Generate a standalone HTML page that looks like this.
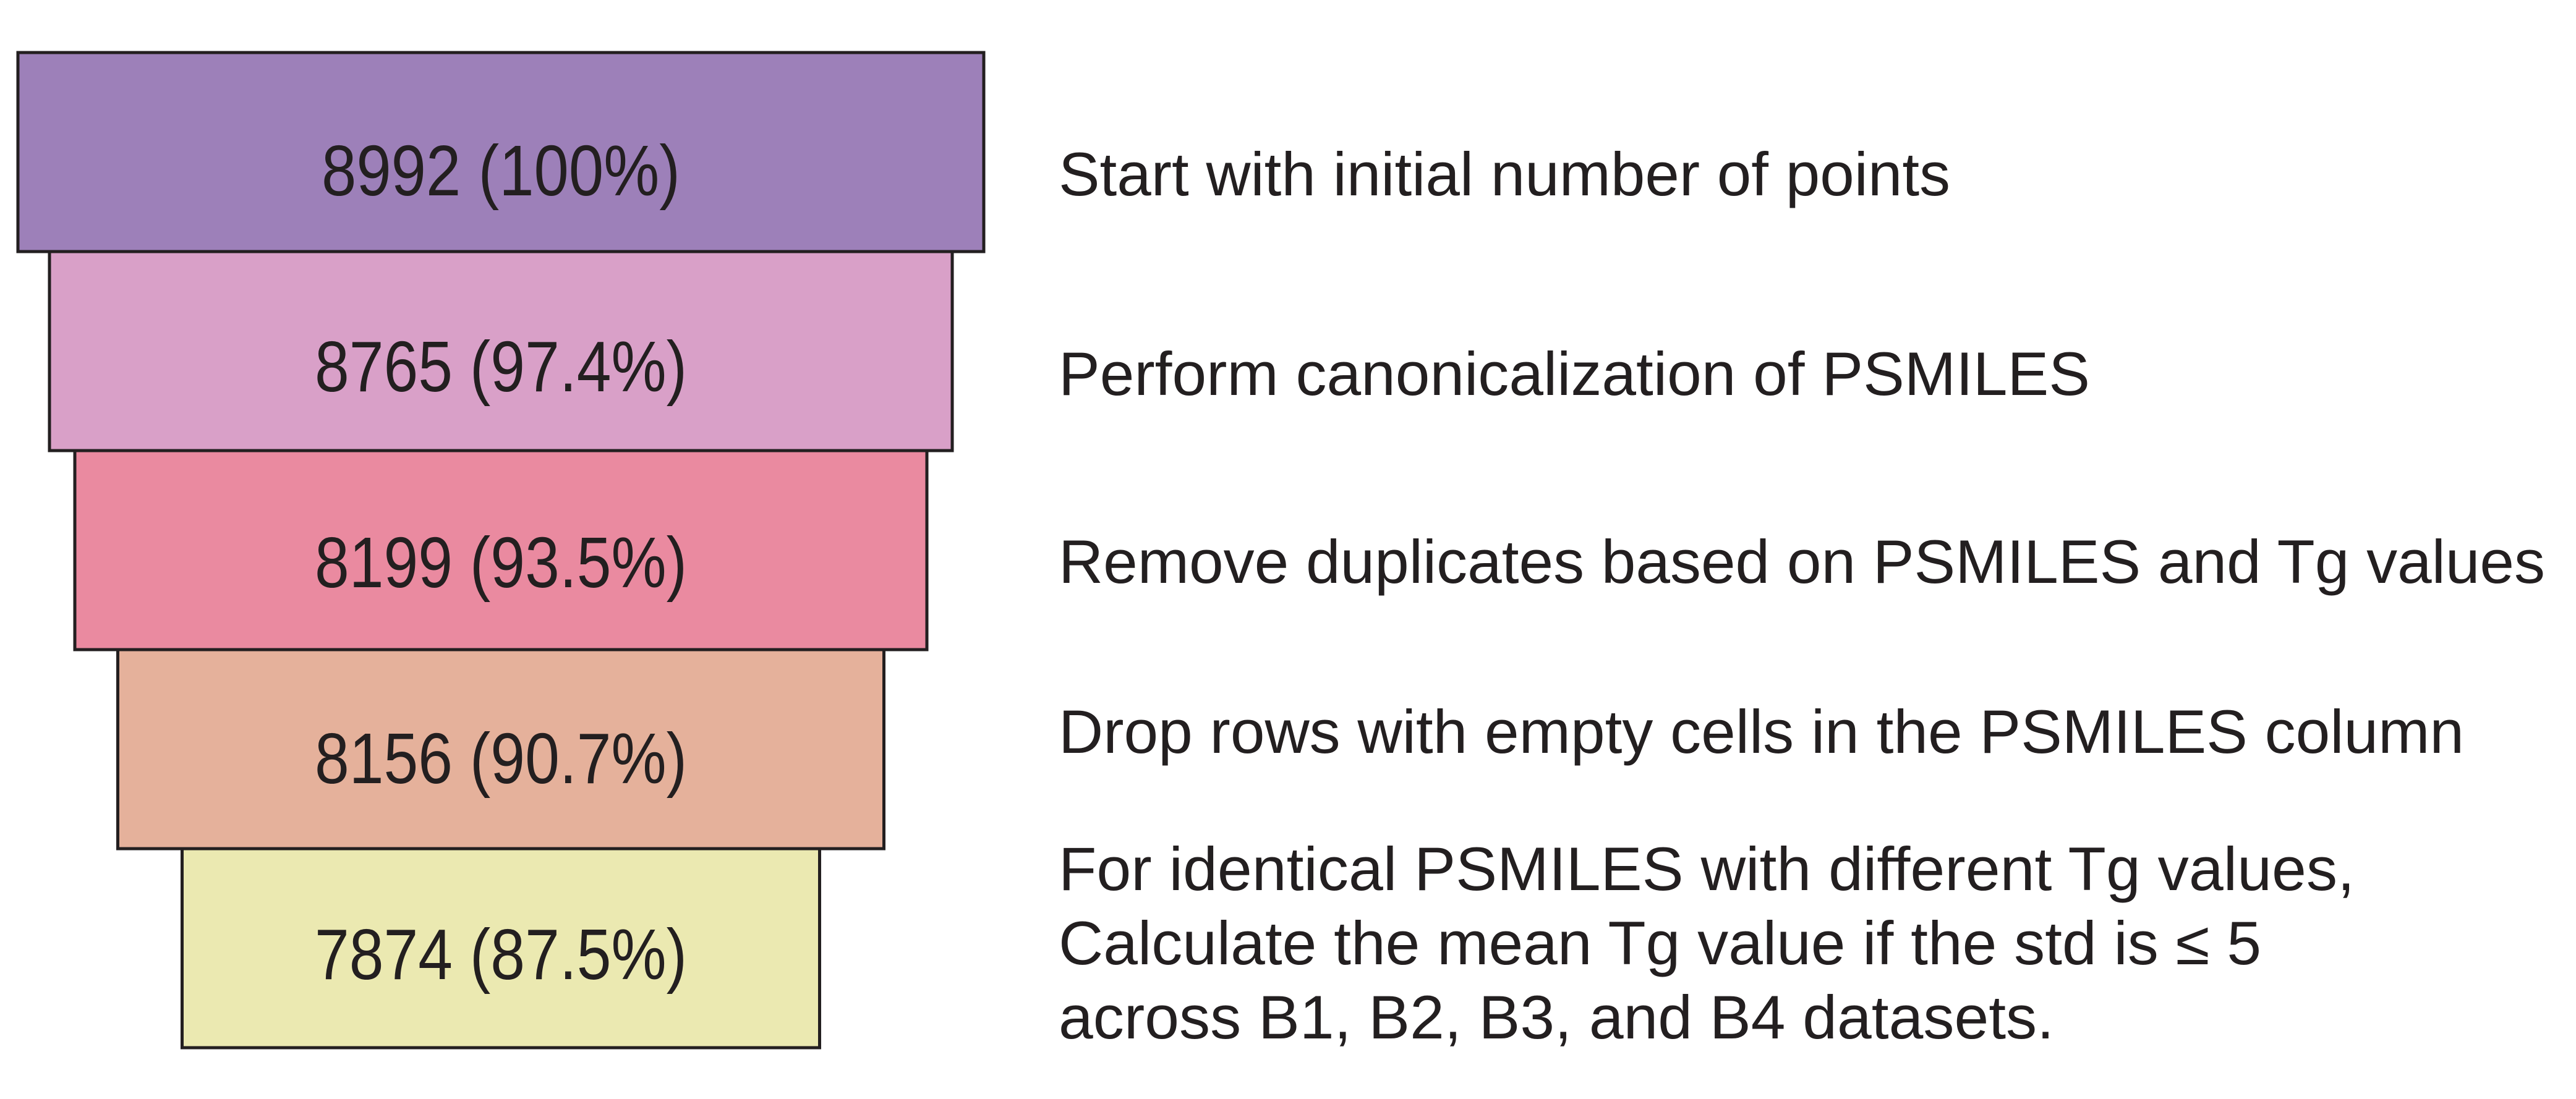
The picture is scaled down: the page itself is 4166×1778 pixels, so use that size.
<!DOCTYPE html>
<html><head><meta charset="utf-8"><style>
html,body{margin:0;padding:0;background:#fff;}
svg{display:block;}
</style></head><body>
<svg id="chart" width="4166" height="1778" viewBox="0 0 4166 1778" xmlns="http://www.w3.org/2000/svg"></svg>
<script>
const stageCounts = [8992, 8765, 8199, 8156, 7874];
const stagePercents = ["100%", "97.4%", "93.5%", "90.7%", "87.5%"];
const stageSteps = [
  ["Start with initial number of points"],
  ["Perform canonicalization of PSMILES"],
  ["Remove duplicates based on PSMILES and Tg values"],
  ["Drop rows with empty cells in the PSMILES column"],
  ["For identical PSMILES with different Tg values,", "Calculate the mean Tg value if the std is \u2264 5", "across B1, B2, B3, and B4 datasets."]
];
const stageColors = ["#9d80b9", "#d9a0c8", "#ea8aa0", "#e5b19b", "#ebe9b1"];

const NS = "http://www.w3.org/2000/svg";
const svg = document.getElementById("chart");
const centerX = 810, top0 = 85, rowH = 322;
// non-linear (polylinear) width axis: value -> pixel width
const axisKnots = [7874, 8156, 8199, 8765, 8992];
const axisWidths = [1031, 1239, 1378, 1460, 1562];
function widthScale(v){
  if (v <= axisKnots[0]) return axisWidths[0] + (v - axisKnots[0]) * (axisWidths[1]-axisWidths[0])/(axisKnots[1]-axisKnots[0]);
  for (let k = 0; k < axisKnots.length - 1; k++) {
    if (v <= axisKnots[k+1]) {
      return axisWidths[k] + (v - axisKnots[k]) * (axisWidths[k+1]-axisWidths[k])/(axisKnots[k+1]-axisKnots[k]);
    }
  }
  const n = axisKnots.length - 1;
  return axisWidths[n] + (v - axisKnots[n]) * (axisWidths[n]-axisWidths[n-1])/(axisKnots[n]-axisKnots[n-1]);
}
function rowY(i){ return top0 + i * rowH; }
const stepBaselines = [316, 639, 943, 1218, 1440];
const stepWidths = [[1442],[1668],[2404],[2273],[2096,1945,1610]];

stageCounts.forEach((v, i) => {
  const w = widthScale(v);
  const g = document.createElementNS(NS, "g");
  
  
  const r = document.createElementNS(NS, "rect");
  
  
  r.setAttribute("x", centerX - w / 2);
  r.setAttribute("y", rowY(i));
  r.setAttribute("width", w);
  r.setAttribute("height", rowH);
  r.setAttribute("fill", stageColors[i]);
  r.setAttribute("stroke", "#231f20");
  r.setAttribute("stroke-width", "5");
  g.appendChild(r);
  const t = document.createElementNS(NS, "text");
  
  
  t.setAttribute("x", centerX);
  t.setAttribute("y", rowY(i) + rowH / 2 + 70 - i * 5);
  t.setAttribute("text-anchor", "middle");
  t.setAttribute("font-family", "Liberation Sans, sans-serif");
  t.setAttribute("font-size", "116");
  t.setAttribute("fill", "#231f20");
  t.setAttribute("textLength", i === 0 ? 580 : 602);
  t.setAttribute("lengthAdjust", "spacingAndGlyphs");
  t.textContent = v + " (" + stagePercents[i] + ")";
  g.appendChild(t);
  svg.appendChild(g);
});

stageSteps.forEach((lines, i) => {
  lines.forEach((line, j) => {
    const t = document.createElementNS(NS, "text");
    
    
    t.setAttribute("x", 1712);
    t.setAttribute("y", stepBaselines[i] + j * 120);
    t.setAttribute("font-family", "Liberation Sans, sans-serif");
    t.setAttribute("font-size", "99");
    t.setAttribute("fill", "#231f20");
    t.setAttribute("textLength", stepWidths[i][j]);
    t.setAttribute("lengthAdjust", "spacingAndGlyphs");
    t.textContent = line;
    svg.appendChild(t);
  });
});
</script>
</body></html>
